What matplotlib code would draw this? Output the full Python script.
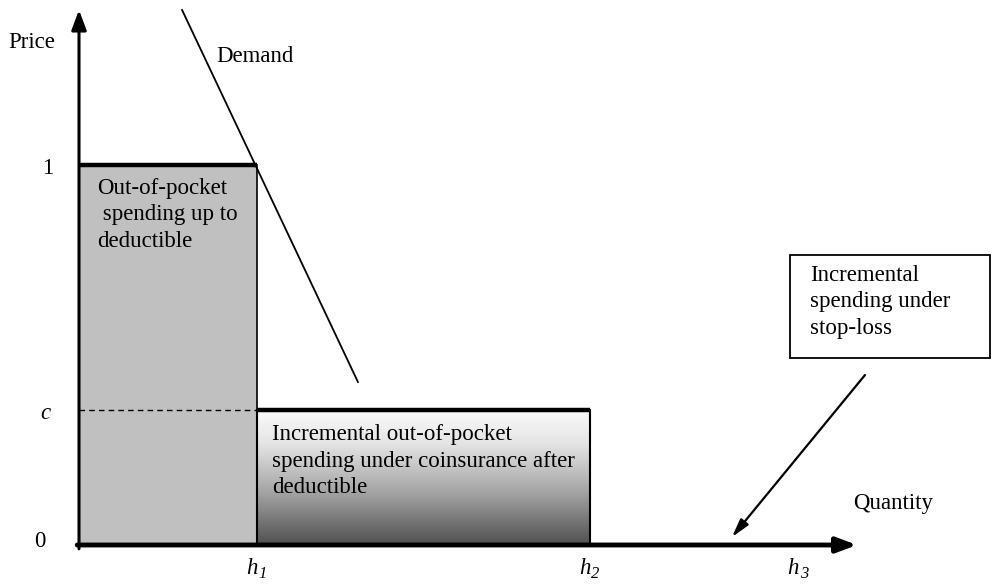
import numpy as np
import matplotlib
matplotlib.use("Agg")
import matplotlib.pyplot as plt
from matplotlib.patches import Rectangle
from matplotlib.colors import LinearSegmentedColormap

# ---- data (in model units) ----
h_points = [1.0, 2.87, 4.04]          # h1, h2, h3
h_names = ["h", "h", "h"]
h_subs = ["1", "2", "3"]
price_full = 1.0
coins_c = 0.355
demand_x = [0.579, 1.567]
demand_y = [1.408, 0.429]
price_ticks = [0.0, coins_c, price_full]
price_tick_labels = ["0", "c", "1"]
price_tick_italic = [False, True, False]

plt.rcParams['font.family'] = ['Liberation Serif', 'DejaVu Serif']

W, H = 992, 585
fig = plt.figure(figsize=(W/100, H/100), dpi=100)
ax = fig.add_axes([0, 0, 1, 1])
ax.set_axis_off()

# layout: pixel -> data helper
X0, Y0, SX, SY = 79, 545, 178.0, 380.0
def px(x, y):
    return (x - X0) / SX, (Y0 - y) / SY

ax.set_xlim(px(0, 0)[0], px(W, 0)[0])
ax.set_ylim(px(0, H)[1], px(0, 0)[1])

h1, h2, h3 = h_points
fs = 16.5
ls = 1.32

# gray deductible rectangle
ax.add_patch(Rectangle((0, 0), h1, price_full, facecolor='#c0c0c0',
                       edgecolor='black', lw=1.2, zorder=1))
# gradient coinsurance rectangle
cmap = LinearSegmentedColormap.from_list(
    'g', [(0, '#fbfbfb'), (0.25, '#e4e4e4'), (0.6, '#a6a6a6'), (1, '#505050')])
grad = np.linspace(0, 1, 256).reshape(-1, 1)
ax.imshow(grad, extent=[h1, h2, 0, coins_c], origin='upper', cmap=cmap,
          aspect='auto', zorder=1, interpolation='bicubic')
ax.add_patch(Rectangle((h1, 0), h2 - h1, coins_c, facecolor='none',
                       edgecolor='black', lw=1.5, zorder=2))

# thick price segments
ax.plot([0, h1], [price_full, price_full], color='black', lw=3.2,
        solid_capstyle='butt', zorder=3)
ax.plot([h1, h2], [coins_c, coins_c], color='black', lw=3.2,
        solid_capstyle='butt', zorder=3)
# dashed line at c
ax.plot([0, h1], [coins_c, coins_c], color='black', lw=1.0,
        dashes=(4, 3), zorder=3)

# demand
ax.plot(demand_x, demand_y, color='black', lw=1.3, zorder=3)

# axes with arrows
xend = px(857, 0)[0]
yend = px(0, 10)[1]
ax.annotate('', xy=(xend, 0), xytext=(-0.01, 0),
            arrowprops=dict(arrowstyle='-|>,head_length=1.2,head_width=0.45',
                            color='black', lw=3.5, shrinkA=0, shrinkB=0), zorder=4)
ax.annotate('', xy=(0, yend), xytext=(0, -0.01),
            arrowprops=dict(arrowstyle='-|>,head_length=1.2,head_width=0.45',
                            color='black', lw=2.2, shrinkA=0, shrinkB=0), zorder=4)

# tick labels
ylab = px(0, 568)[1]
for xv, nm, sb in zip(h_points, h_names, h_subs):
    ax.text(xv + 0.005, ylab, nm, ha='right', va='center', fontsize=fs, style='italic')
    ax.text(xv + 0.008, ylab - 0.016, sb, ha='left', va='center', fontsize=12, style='italic')
tick_x = {0.0: 40, coins_c: 45, price_full: 48}
for yv, lab, it in zip(price_ticks, price_tick_labels, price_tick_italic):
    ax.text(px(tick_x[yv], 0)[0], yv + (0.008 if yv == 0 else -0.01), lab,
            ha='center', va='center', fontsize=fs, style='italic' if it else 'normal')

# axis labels
ax.text(*px(8, 43), "Price", ha='left', va='center', fontsize=fs)
ax.text(*px(853, 504), "Quantity", ha='left', va='center', fontsize=fs)
ax.text(*px(216, 57), "Demand", ha='left', va='center', fontsize=fs)

# region labels
ax.text(*px(97, 215), "Out-of-pocket\n spending up to\ndeductible",
        ha='left', va='center', fontsize=fs, linespacing=ls, zorder=5)
ax.text(*px(272, 461), "Incremental out-of-pocket\nspending under coinsurance after\ndeductible",
        ha='left', va='center', fontsize=fs, linespacing=ls, zorder=5)

# stop-loss box
bx0, by0 = px(790, 358)
bx1, by1 = px(990, 255)
ax.add_patch(Rectangle((bx0, by0), bx1 - bx0, by1 - by0, facecolor='white',
                       edgecolor='black', lw=1.3, zorder=5))
ax.text(*px(810, 302), "Incremental\nspending under\nstop-loss",
        ha='left', va='center', fontsize=fs, linespacing=ls, zorder=6)
ax.annotate('', xy=px(732, 537), xytext=px(865, 375),
            arrowprops=dict(arrowstyle='-|>,head_length=1.1,head_width=0.3',
                            color='black', lw=1.6, shrinkA=0, shrinkB=0), zorder=6)

fig.savefig('out.png', dpi=100)
